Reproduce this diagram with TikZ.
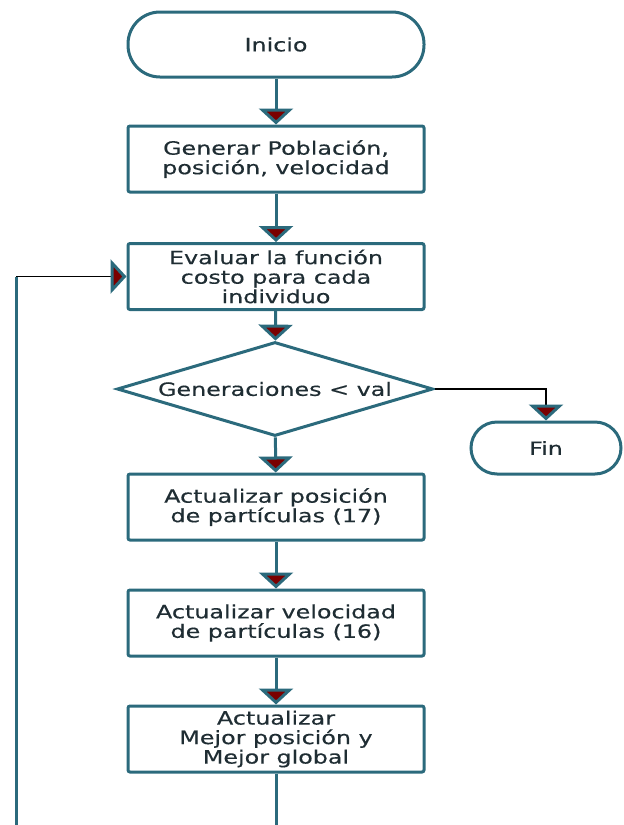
\documentclass[tikz,border=0pt]{standalone}
\usepackage{fontspec}
\usetikzlibrary{shapes.geometric,arrows.meta}
\newfontfamily\dvfont[FakeStretch=1.3,FakeBold=0.4]{DejaVu Sans}
\definecolor{flowteal}{HTML}{2B6A7C}
\definecolor{tipred}{HTML}{7A0000}
\definecolor{txtcol}{HTML}{1F2D33}
\tikzset{
  base/.style={draw=flowteal, line width=3pt, fill=white, text=txtcol, align=center,
    font=\dvfont\fontsize{18.3}{19.5}\selectfont, inner sep=0pt},
  procbox/.style={base, rectangle, rounded corners=2pt, minimum width=296pt, minimum height=66pt},
  termbox/.style={base, rectangle, rounded corners=32pt, minimum width=296pt, minimum height=65pt},
  decbox/.style={base, diamond, aspect=3.3, minimum width=316pt, minimum height=94pt},
  redtip/.style={-{Triangle[width=34pt,length=16pt,fill=tipred,color=flowteal,line width=3pt]}},
  mainline/.style={draw=flowteal, line width=3pt},
  thinline/.style={draw=black, line width=1.6pt}
}
\begin{document}
\begin{tikzpicture}[x=1pt,y=-1pt]
\useasboundingbox (0,0) rectangle (624,825);
\node[termbox] (ini) at (276,44.5) {Inicio};
\node[procbox] (b1) at (276,159) {Generar Población,\\posición, velocidad};
\node[procbox] (b2) at (276,276.5) {Evaluar la función\\costo para cada\\individuo};
\node[decbox] (dec) at (275,389) {Generaciones < val};
\node[termbox, minimum width=150pt, minimum height=52pt, rounded corners=26pt] (fin) at (546,448) {Fin};
\node[procbox] (b3) at (276,507) {Actualizar posición\\de partículas (17)};
\node[procbox] (b4) at (276,623) {Actualizar velocidad\\de partículas (16)};
\node[procbox] (b5) at (276,739) {Actualizar\\Mejor posición y\\Mejor global};
\coordinate (bend) at (546,389);
\coordinate (bot) at (276,826);
\coordinate (lb) at (16,826);
\coordinate (lt) at (16,276.5);
\draw[mainline, redtip] (ini) -- (b1);
\draw[mainline, redtip] (b1) -- (b2);
\draw[mainline, redtip] (b2) -- (dec);
\draw[mainline, redtip] (dec) -- (b3);
\draw[mainline, redtip] (b3) -- (b4);
\draw[mainline, redtip] (b4) -- (b5);
\draw[mainline] (b5) -- (bot);
\draw[mainline] (lb) -- (lt);
\draw[thinline, redtip] (lt) -- (b2.west);
\draw[thinline, redtip] (dec.east) -- (bend) -- (fin.north);
\end{tikzpicture}
\end{document}
